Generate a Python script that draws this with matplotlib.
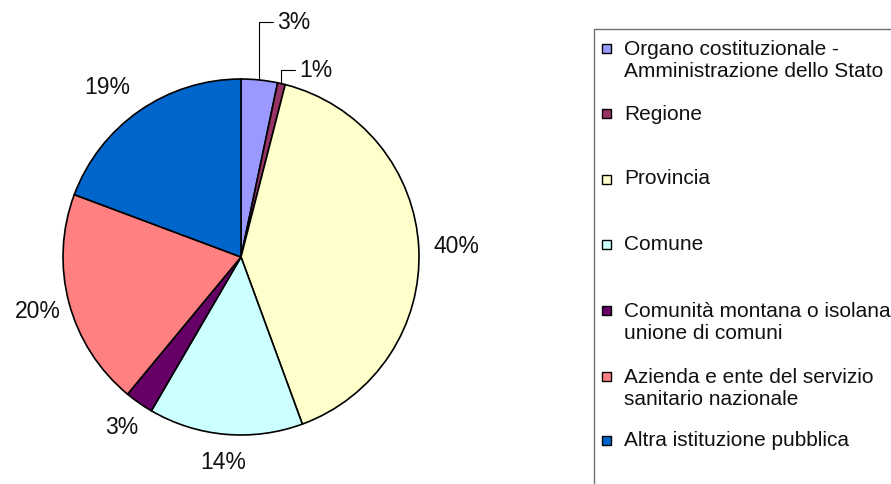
import numpy as np
import matplotlib.pyplot as plt
from matplotlib.patches import Rectangle

plt.rcParams['font.family'] = ['Liberation Sans', 'DejaVu Sans']

# data
categories = [
    "Organo costituzionale -\nAmministrazione dello Stato",
    "Regione",
    "Provincia",
    "Comune",
    "Comunità montana o isolana\nunione di comuni",
    "Azienda e ente del servizio\nsanitario nazionale",
    "Altra istituzione pubblica",
]
shares = [3.3, 0.7, 40.4, 14.0, 2.6, 19.7, 19.3]
colors = ["#9999FF", "#993366", "#FFFFCC", "#CCFFFF", "#660066", "#FF8080", "#0066CC"]

W, H = 891, 484
fig = plt.figure(figsize=(W / 100, H / 100), dpi=100)


def fx(px):
    return px / W


def fy(py):
    return 1 - py / H


# pie axes: centre (241, 257), radius 178 px
cx, cy, r = 241, 257, 178
ax = fig.add_axes([fx(cx - r), fy(cy + r), 2 * r / W, 2 * r / H])
wedges, _ = ax.pie(shares, colors=colors, startangle=90, counterclock=False,
                   wedgeprops=dict(edgecolor="black", linewidth=1.2))
ax.set_xlim(-1, 1)
ax.set_ylim(-1, 1)
ax.set_aspect("equal")
ax.set_axis_off()

# percentage labels (distance / angle nudge per slice)
label_dist = [None, None, 1.21, 1.16, 1.17, 1.18, 1.21]
label_shift = [0, 0, 0, 0, 0, 0, 3.5]
for i, w in enumerate(wedges):
    txt = "%.0f%%" % shares[i]
    mid = np.deg2rad((w.theta1 + w.theta2) / 2)
    ex, ey = np.cos(mid), np.sin(mid)
    if label_dist[i] is None:
        # small slices: elbow leader line up to the label
        ty = 1.32 if i == 0 else 1.05
        tx = ex + (0.1 if i == 0 else 0.10)
        ax.annotate(txt, xy=(ex, ey), xytext=(tx, ty), ha="left", va="center",
                    fontsize=16.5, color="#111111", annotation_clip=False,
                    arrowprops=dict(arrowstyle="-", color="black", lw=0.8,
                                    shrinkA=1, shrinkB=0, relpos=(0, 0.5),
                                    connectionstyle="angle,angleA=0,angleB=90,rad=0"))
    else:
        d = label_dist[i]
        a = mid + np.deg2rad(label_shift[i])
        ax.text(d * np.cos(a), d * np.sin(a), txt, ha="center", va="center",
                fontsize=16.5, color="#111111")

# legend box (runs past the right and bottom edges)
fig.add_artist(Rectangle((fx(594), fy(520)), fx(960) - fx(594), fy(29) - fy(520),
                         transform=fig.transFigure, facecolor="none",
                         edgecolor="#707070", linewidth=1.0, clip_on=False))

entry_y = [48, 114, 179, 244, 310, 376, 440]
line_h = 25.5
for lab, col, y in zip(categories, colors, entry_y):
    nlines = lab.count("\n") + 1
    m = 9
    fig.add_artist(Rectangle((fx(602), fy(y + m / 2)), m / W, m / H,
                             transform=fig.transFigure, facecolor=col,
                             edgecolor="black", linewidth=1.0))
    yc = y + (nlines - 1) * line_h / 2
    fig.text(fx(624), fy(yc), lab, ha="left", va="center", fontsize=15,
             linespacing=1.22, color="#111111")

fig.savefig("out.png", dpi=100)
